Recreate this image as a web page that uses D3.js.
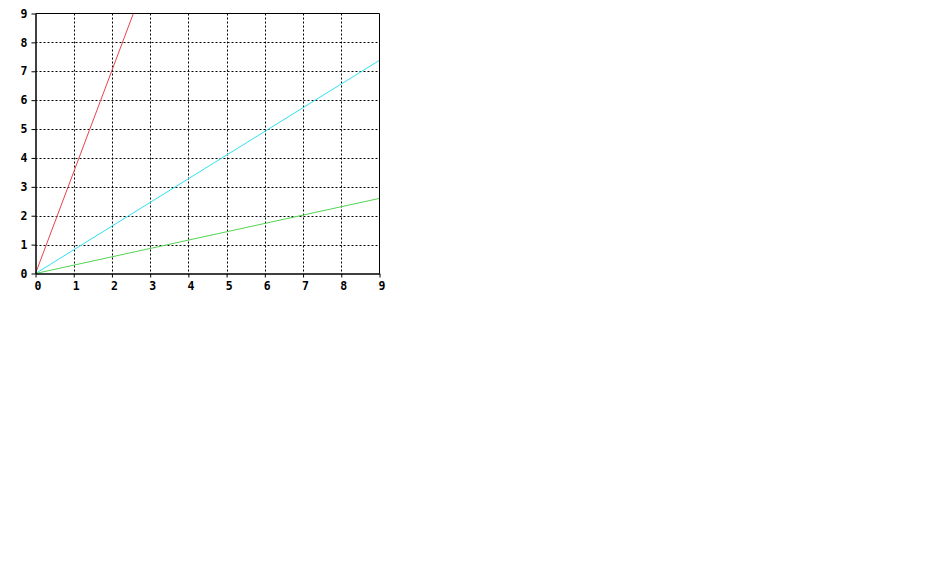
<!DOCTYPE html>
<html>
<head>
<meta charset="utf-8">
<script src="https://cdn.jsdelivr.net/npm/d3@7"></script>
<style>
  body { margin: 0; background: #fff; }
  svg { display: block; }
  .tick text { font-family: "DejaVu Sans Mono", monospace; font-weight: bold; font-size: 11.5px; fill: #000; }
</style>
</head>
<body>
<svg id="chart"></svg>
<script>
// DATA
const xTicks = [0, 1, 2, 3, 4, 5, 6, 7, 8, 9];
const yTicks = [0, 1, 2, 3, 4, 5, 6, 7, 8, 9];

const redLine = [[0, 0], [2.56, 9]];
const cyanLine = [[0, 0], [9, 7.38]];
const greenLine = [[0, 0], [9, 2.6]];

const seriesList = [
  { name: "red", values: redLine, color: "#e8444c" },
  { name: "cyan", values: cyanLine, color: "#2fe2f0" },
  { name: "green", values: greenLine, color: "#52d452" }
];

const width = 943, height = 583;
const margin = { left: 35.5, top: 13.5, right: 563.5, bottom: 309.5 };

const svg = d3.select("#chart")
  .attr("width", width)
  .attr("height", height);

// + SCALES
const xScale = d3.scaleLinear()
  .domain([0, 9])
  .range([margin.left, width - margin.right]);

const yScale = d3.scaleLinear()
  .domain([0, 9])
  .range([height - margin.bottom, margin.top]);

// GRID (dashed)
svg.append("g")
  .selectAll("line")
  .data(xTicks.slice(1, -1))
  .join("line")
  .attr("x1", d => Math.round(xScale(d)) + 0.5)
  .attr("x2", d => Math.round(xScale(d)) + 0.5)
  .attr("y1", yScale(9))
  .attr("y2", yScale(0))
  .attr("stroke", "#000")
  .attr("stroke-dasharray", "2,2");

svg.append("g")
  .selectAll("line")
  .data(yTicks.slice(1, -1))
  .join("line")
  .attr("x1", xScale(0))
  .attr("x2", xScale(9) - 2)
  .attr("y1", d => Math.round(yScale(d)) + 0.5)
  .attr("y2", d => Math.round(yScale(d)) + 0.5)
  .attr("stroke", "#000")
  .attr("stroke-dasharray", "2,2");

// LINES
const lineGen = d3.line()
  .x(d => xScale(d[0]))
  .y(d => yScale(d[1]));

svg.append("g")
  .selectAll("path")
  .data(seriesList)
  .join("path")
  .attr("fill", "none")
  .attr("stroke", d => d.color)
  .attr("stroke-width", 1)
  .attr("d", d => lineGen(d.values));

// FRAME top + right
svg.append("path")
  .attr("fill", "none")
  .attr("stroke", "#000")
  .attr("d", `M${xScale(0)},${yScale(9)}H${xScale(9)}V${yScale(0)}`);

// + AXES
const xAxis = svg.append("g")
  .attr("transform", `translate(0, ${yScale(0)})`)
  .call(d3.axisBottom(xScale).tickValues(xTicks).tickSize(4).tickSizeOuter(0).tickPadding(4));

const yAxis = svg.append("g")
  .attr("transform", `translate(${xScale(0)}, 0)`)
  .call(d3.axisLeft(yScale).tickValues(yTicks).tickSize(4).tickSizeOuter(0).tickPadding(4));

xAxis.selectAll("text").attr("dx", 2);
[xAxis, yAxis].forEach(g => {
  g.select(".domain").attr("stroke", "#000").attr("stroke-width", 1.5);
  g.selectAll(".tick line").attr("stroke", "#000");
});
</script>
</body>
</html>
